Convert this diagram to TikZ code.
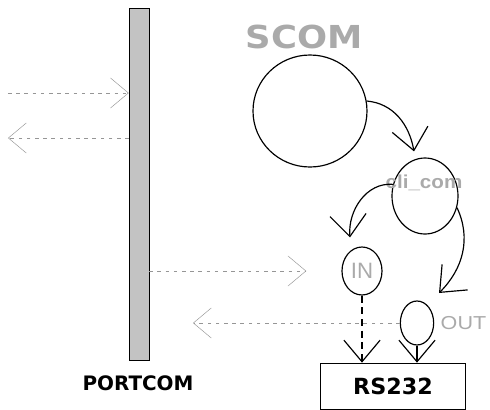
\documentclass[tikz,border=0pt]{standalone}
\usepackage{fontspec}
\setsansfont{Liberation Sans}
\newfontfamily\heavyfont{DejaVu Sans}
\definecolor{scomgray}{RGB}{170,170,170}
\definecolor{bargray}{RGB}{195,195,195}
\definecolor{flowgray}{RGB}{150,150,150}
\usetikzlibrary{positioning, arrows.meta, shapes.geometric}

\begin{document}
\begin{tikzpicture}[x=0.03cm, y=-0.03cm,
  proc/.style={draw, line width=1pt, ellipse, inner sep=0pt},
  vee/.style={-{Straight Barb[angle=80:24pt]}},
  arw/.style={vee, line width=1pt},
  flow/.style={-{Straight Barb[angle=80:20pt]}, thin, flowgray,
    dash pattern=on 3pt off 4pt},
  title/.style={font=\heavyfont\bfseries\fontsize{17}{20}\selectfont},
  faint/.style={text=scomgray, font=\sffamily\fontsize{16}{18}\selectfont},
]
\useasboundingbox (0,0) rectangle (490,410);

\node[draw, fill=bargray, minimum width=0.6cm, minimum height=10.56cm,
  inner sep=0pt] (portcom) at (139,184) {};
\node[title] (portlbl) at (138,383) {PORTCOM};

\node[title, text=scomgray, font=\heavyfont\bfseries\fontsize{27}{30}\selectfont]
  (scomlbl) at (304,37) {\scalebox{1.12}[1]{SCOM}};
\node[proc, minimum width=3.42cm, minimum height=3.36cm] (scom) at (310,111) {};

\node[proc, minimum width=1.98cm, minimum height=2.28cm] (cli) at (425,196) {};
\node[faint, font=\sffamily\bfseries\fontsize{16}{18}\selectfont] (clilbl)
  at (424,183) {\scalebox{1.1}[1]{cli\_com}};

\node[proc, minimum width=1.2cm, minimum height=1.44cm, faint,
  font=\sffamily\fontsize{19}{20}\selectfont] (in) at (362,271) {IN};
\node[proc, minimum width=1.0cm, minimum height=1.32cm] (out) at (417,323) {};
\node[faint, right=2pt of out] (outlbl) {\scalebox{1.15}[1]{OUT}};

\node[draw, semithick, minimum width=4.35cm, minimum height=1.38cm,
  title, font=\heavyfont\bfseries\fontsize{19}{20}\selectfont] (rs) at (393,386) {RS232};

\coordinate (srcin) at (8,93);
\coordinate (dstout) at (8,138);
\coordinate (dstret) at (193,323);

\draw[arw] (scom.10) to[out=-5, in=100] ([shift={(-11,-6)}]cli.north);
\draw[arw] (cli.160) to[out=175, in=95] ([shift={(-12,-9)}]in.north);
\draw[arw] (cli.-20) to[out=-65, in=45] ([shift={(22,-30)}]out.center);
\draw[vee, line width=1pt, dash pattern=on 6pt off 4pt] (in.south) -- (in.south |- rs.north);
\draw[arw] (out.south) -- (out.south |- rs.north);

\draw[flow] (srcin) -- (srcin -| portcom.west);
\draw[flow] (dstout -| portcom.west) -- (dstout);
\draw[flow] (in -| portcom.east) -- ([xshift=-30]in.west);
\draw[flow] (out.west) -- (dstret);
\end{tikzpicture}
\end{document}
